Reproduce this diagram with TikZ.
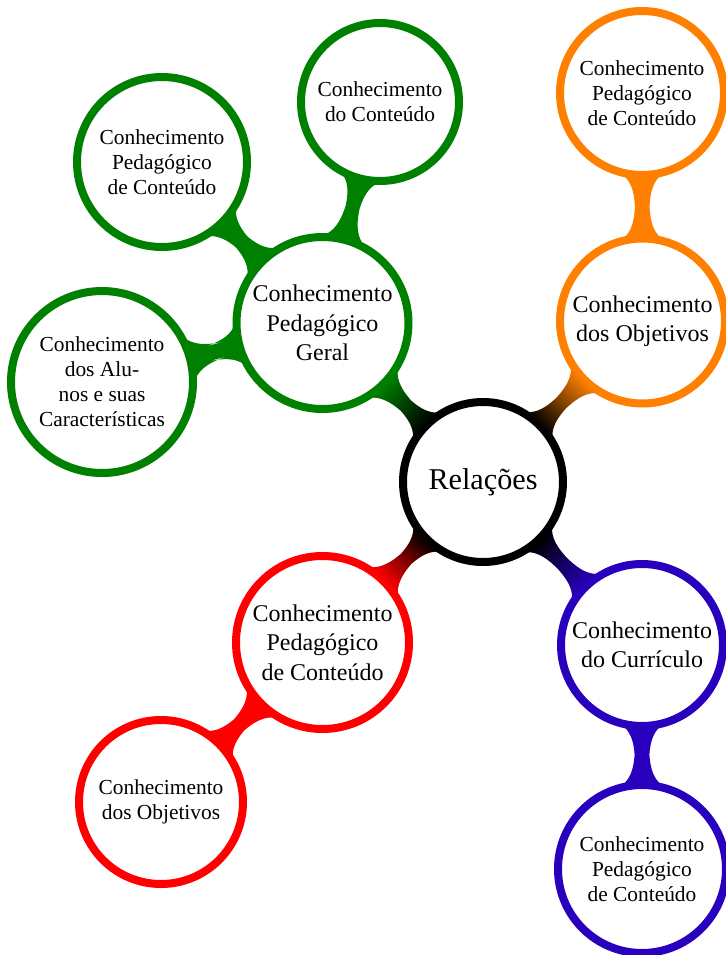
\documentclass[tikz,border=0pt]{standalone}
\usepackage{fontspec}
\setmainfont{Liberation Serif}
\usetikzlibrary{mindmap}
\definecolor{cgreen}{RGB}{0,128,0}
\definecolor{corange}{RGB}{255,128,0}
\definecolor{cred}{RGB}{255,0,0}
\definecolor{cblue}{RGB}{40,0,190}
\tikzset{
  bubble/.style={concept, fill=white, draw=#1, concept color=#1, line width=4pt,
    text=black, align=center, inner sep=0pt, text width={}},
  rootfont/.style={font=\fontsize{15.1pt}{17pt}\selectfont},
  midfont/.style={font=\fontsize{12pt}{14.75pt}\selectfont},
  leaffont/.style={font=\fontsize{10.7pt}{12.5pt}\selectfont},
  mid/.style={bubble=#1, midfont, minimum size=82pt},
  leaf/.style={bubble=#1, leaffont, minimum size=80pt},
  bar/.style 2 args={circle connection bar switch color=from (#1) to (#2)},
}
\begin{document}
\begin{tikzpicture}[x=0.5pt, y=-0.5pt, mindmap]
  \useasboundingbox (0,0) rectangle (725,955);

  % centre
  \node[bubble=black, rootfont, minimum size=80pt] (root) at (483,482) {Relações};

  % first ring
  \node[mid=cgreen, minimum size=86pt]  (geral) at (322.5,323) {Conhecimento\\Pedagógico\\Geral};
  \node[mid=corange, minimum size=82.5pt] (objA) at (642.5,321) {Conhecimento\\dos Objetivos};
  \node[mid=cred, minimum size=86.5pt]  (pcRed) at (322.5,642.5) {Conhecimento\\Pedagógico\\de Conteúdo};
  \node[mid=cblue, minimum size=81pt]  (curr) at (642,645) {Conhecimento\\do Currículo};

  % second ring
  \node[leaf=cgreen, minimum size=79pt]   (cont)  at (380,102) {Conhecimento\\do Conteúdo};
  \node[leaf=cgreen, minimum size=85pt]   (pcGr)  at (162,162) {Conhecimento\\Pedagógico\\de Conteúdo};
  \node[leaf=cgreen, minimum size=91pt]   (alun)  at (102,382) {Conhecimento\\dos Alu-\\nos e suas\\Características};
  \node[leaf=corange, minimum size=82pt]  (pcOr)  at (642,93) {Conhecimento\\Pedagógico\\de Conteúdo};
  \node[leaf=cred, minimum size=82pt]     (objB)  at (161,802) {Conhecimento\\dos Objetivos};
  \node[leaf=cblue, minimum size=84pt]    (pcBl)  at (642,869) {Conhecimento\\Pedagógico\\de Conteúdo};

  % connection bars
  \path (root) to[bar={black}{cgreen}]  (geral);
  \path (root) to[bar={black}{corange}] (objA);
  \path (root) to[bar={black}{cred}]    (pcRed);
  \path (root) to[bar={black}{cblue}]   (curr);
  \path (geral) to[bar={cgreen}{cgreen}] (cont);
  \path (geral) to[bar={cgreen}{cgreen}] (pcGr);
  \path (geral) to[bar={cgreen}{cgreen}] (alun);
  \path (objA) to[bar={corange}{corange}] (pcOr);
  \path (pcRed) to[bar={cred}{cred}] (objB);
  \path (curr) to[bar={cblue}{cblue}] (pcBl);
\end{tikzpicture}
\end{document}
